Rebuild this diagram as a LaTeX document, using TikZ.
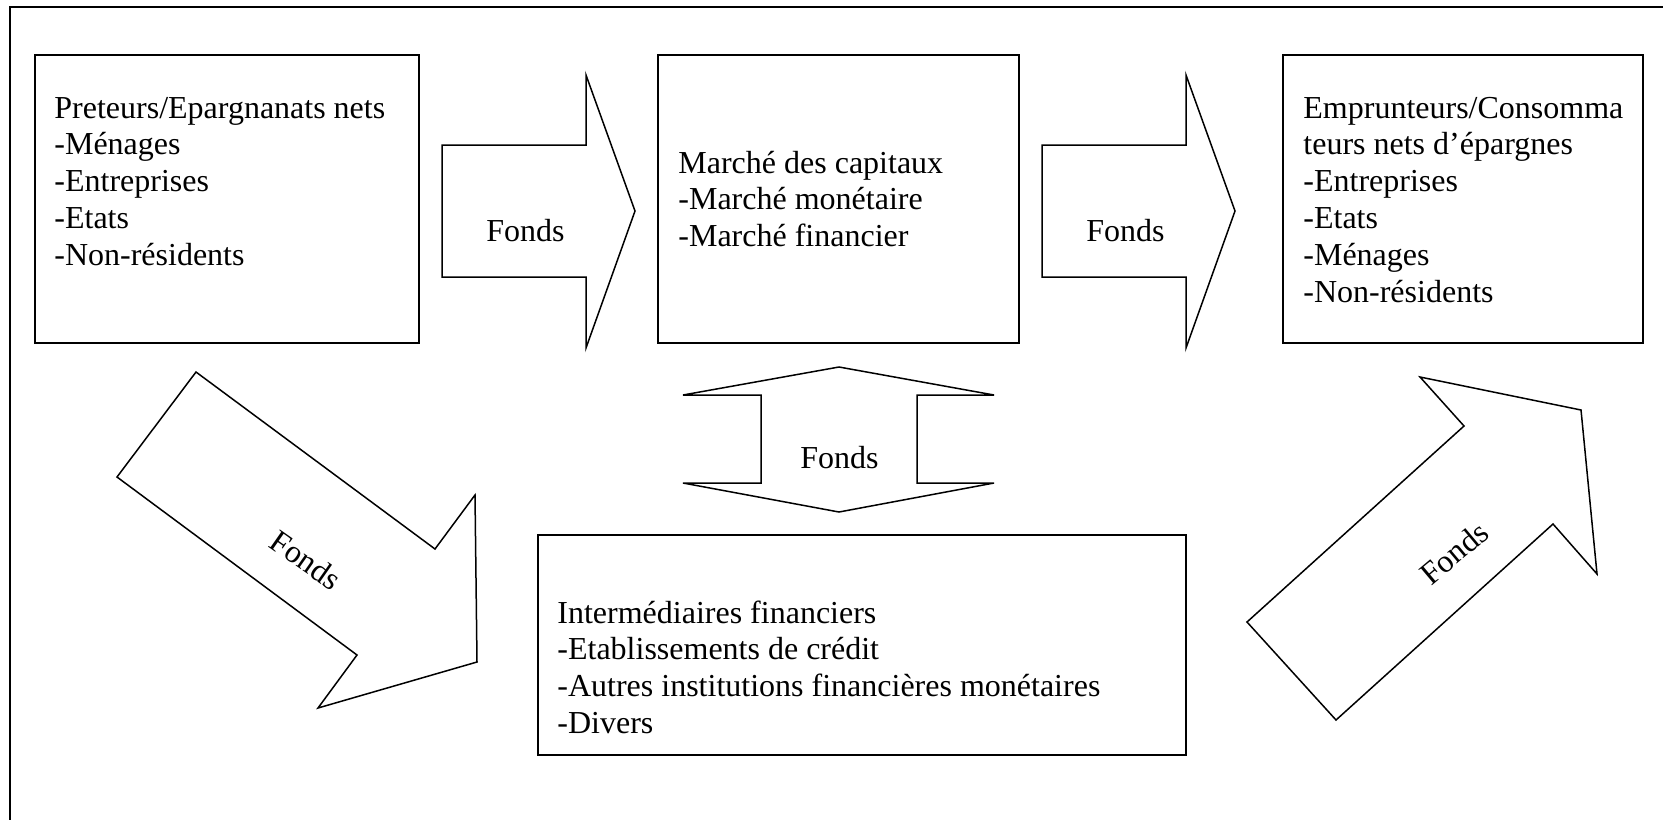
\documentclass[tikz,border=0pt]{standalone}
\usepackage{fontspec}
\setmainfont{Liberation Serif}
\begin{document}
\begin{tikzpicture}[x=0.5pt,y=-0.5pt,
  box/.style={draw=black, line width=0.75pt, fill=white, rectangle, inner sep=0pt},
  blockarrow/.style={draw=black, line width=0.75pt, fill=white, line join=miter},
  txt/.style={anchor=base west, inner sep=0pt, font=\fontsize{16}{18.4}\selectfont},
  lbl/.style={inner sep=0pt, font=\fontsize{16}{18.4}\selectfont}]
\useasboundingbox (0,0) rectangle (1663,820);
% outer frame (top and left edges)
\draw[line width=1pt] (1663,7) -- (10,7) -- (10,820);

% boxes
\node[box, minimum width=192pt, minimum height=144pt] (preteurs) at (227,199) {};
\node[box, minimum width=180.5pt, minimum height=144pt] (marche) at (838.5,199) {};
\node[box, minimum width=180pt, minimum height=144pt] (emprunteurs) at (1463,199) {};
\node[box, minimum width=324pt, minimum height=110pt] (intermediaires) at (862,645) {};

% box texts
\node[txt] (tpreteurs) at (54,118) {\vtop{\hbox{Preteurs/Epargnanats nets}\hbox{-Ménages}\hbox{-Entreprises}\hbox{-Etats}\hbox{-Non-résidents}}};
\node[txt] (tmarche) at (678,173) {\vtop{\hbox{Marché des capitaux}\hbox{-Marché monétaire}\hbox{-Marché financier}}};
\node[txt] (temprunteurs) at (1303,118) {\vtop{\hbox{Emprunteurs/Consomma}\hbox{teurs nets d’épargnes}\hbox{-Entreprises}\hbox{-Etats}\hbox{-Ménages}\hbox{-Non-résidents}}};
\node[txt] (tintermediaires) at (557,623) {\vtop{\hbox{Intermédiaires financiers}\hbox{-Etablissements de crédit}\hbox{-Autres institutions financières monétaires}\hbox{-Divers}}};

% horizontal block arrows
\draw[blockarrow] (442,145) -- (586,145) -- (586,75) -- (635,211) -- (586,348) -- (586,277) -- (442,277) -- cycle;
\draw[blockarrow] (1042,145) -- (1186,145) -- (1186,75) -- (1235,211) -- (1186,348) -- (1186,277) -- (1042,277) -- cycle;
\node[txt] (f1) at (486,241) {Fonds};
\node[txt] (f2) at (1086,241) {Fonds};

% double vertical block arrow
\draw[blockarrow] (839,367) -- (994,395) -- (917,395) -- (917,483) -- (994,483) -- (839,512)
  -- (683,483) -- (761,483) -- (761,395) -- (683,395) -- cycle;
\node[txt] (f3) at (800,468) {Fonds};

% diagonal block arrows
\draw[blockarrow] (196,372) -- (435,549) -- (475,495) -- (477,662) -- (318,708) -- (357,655) -- (117,477) -- cycle;
\node[lbl, rotate=-35] (f4) at (306,560) {Fonds};
\draw[blockarrow] (1247,622) -- (1464,426) -- (1420,377) -- (1581,410) -- (1597,574) -- (1553,524) -- (1336,720) -- cycle;
\node[lbl, rotate=40] (f5) at (1454,553) {Fonds};
\end{tikzpicture}
\end{document}
